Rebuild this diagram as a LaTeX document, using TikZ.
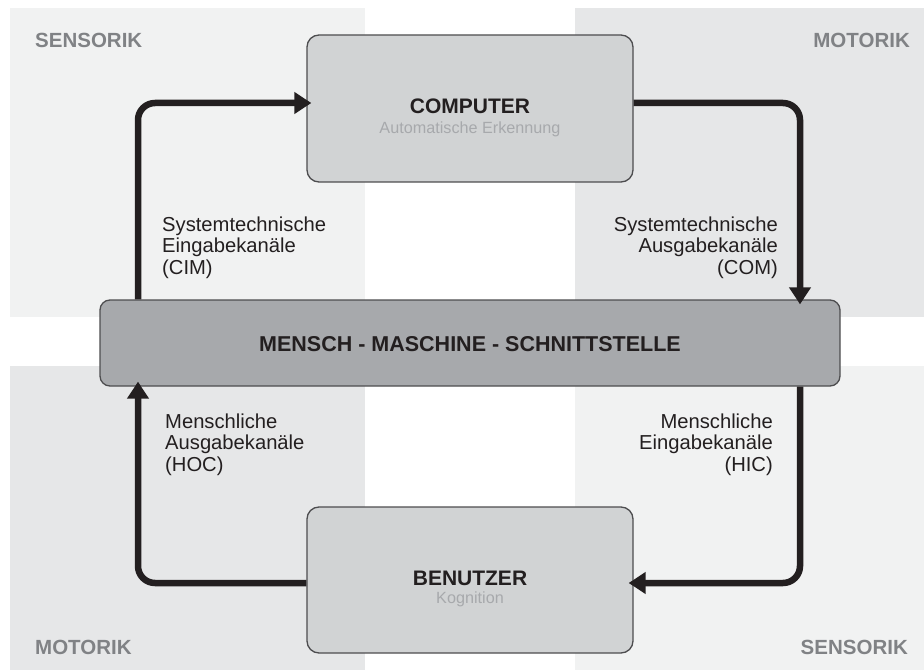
\documentclass[tikz,border=0pt]{standalone}
\usepackage{fontspec}
\setmainfont{Liberation Sans}
\usetikzlibrary{arrows.meta}

\definecolor{quadlight}{HTML}{F1F2F2}
\definecolor{quaddark}{HTML}{E6E7E8}
\definecolor{boxfill}{HTML}{D1D3D4}
\definecolor{mmsfill}{HTML}{A7A9AC}
\definecolor{edge}{HTML}{4D4D4F}
\definecolor{ink}{HTML}{231F20}
\definecolor{cornergray}{HTML}{808285}
\definecolor{subgray}{HTML}{A7A9AC}

\begin{document}
\begin{tikzpicture}[x=1pt, y=-1pt,
  unit/.style={draw=edge, line width=1.3pt, fill=boxfill, rounded corners=12pt,
               minimum width=326pt, minimum height=147pt, inner sep=0pt},
  mmsbox/.style={draw=edge, line width=1.3pt, fill=mmsfill, rounded corners=10pt,
               minimum width=740pt, minimum height=86pt, inner sep=0pt},
  title/.style={inner sep=0pt, text=ink, font=\fontsize{21}{24}\selectfont\bfseries},
  subtitle/.style={inner sep=0pt, text=subgray, font=\fontsize{16.2}{19}\selectfont},
  chan/.style={inner sep=0pt, text=ink, font=\fontsize{20.2}{21.7}\selectfont},
  corner/.style={inner sep=0pt, text=cornergray, font=\fontsize{20.5}{23}\selectfont\bfseries},
  flow/.style={draw=ink, line width=6.5pt, rounded corners=17pt,
               -{Triangle[length=17pt,width=21pt]}, shorten >=-5pt}]

\useasboundingbox (0,0) rectangle (924,671);

% quadrant backgrounds
\fill[quadlight] (10,8) rectangle (365,317);
\fill[quaddark] (575,8) rectangle (924,317);
\fill[quaddark] (10,366) rectangle (365,670);
\fill[quadlight] (575,366) rectangle (924,670);

% corner captions
\node[corner, anchor=base west] (senstl) at (35,48) {SENSORIK};
\node[corner, anchor=base east] (mottr) at (910,48) {MOTORIK};
\node[corner, anchor=base west] (motbl) at (35,654) {MOTORIK};
\node[corner, anchor=base east] (sensbr) at (908,654) {SENSORIK};

% main boxes
\node[unit] (comp) at (470,108.5) {};
\node[unit, minimum height=146pt] (user) at (470,580) {};
\node[mmsbox] (mms) at (470,343) {};

\node[title, anchor=base] (compT) at (470,114) {COMPUTER};
\node[subtitle, anchor=base] (compS) at (470,134) {Automatische Erkennung};
\node[title, anchor=base] (userT) at (470,585) {BENUTZER};
\node[subtitle, anchor=base] (userS) at (470,603.5) {Kognition};
\node[title, anchor=base, font=\fontsize{21.5}{24}\selectfont\bfseries] (mmsT) at (470,351.5) {MENSCH - MASCHINE - SCHNITTSTELLE};

% channel captions (base anchor sits on the last line)
\node[chan, anchor=base west, align=left] (cim) at (162,274.5) {Systemtechnische\\Eingabekanäle\\(CIM)};
\node[chan, anchor=base east, align=right] (com) at (778,274.5) {Systemtechnische\\Ausgabekanäle\\(COM)};
\node[chan, anchor=base west, align=left] (hoc) at (165,471.5) {Menschliche\\Ausgabekanäle\\(HOC)};
\node[chan, anchor=base east, align=right] (hic) at (773,471.5) {Menschliche\\Eingabekanäle\\(HIC)};

% connector lanes
\coordinate (lt) at (138,103);
\coordinate (rt) at (800,103);
\coordinate (lb) at (138,583);
\coordinate (rb) at (800,583);

\draw[flow] (lt |- mms.north) |- (comp.west |- lt);
\draw[flow] (comp.east |- rt) -| (rt |- mms.north);
\draw[flow] (user.west |- lb) -| (lb |- mms.south);
\draw[flow] (rb |- mms.south) |- (user.east |- rb);

\end{tikzpicture}
\end{document}
